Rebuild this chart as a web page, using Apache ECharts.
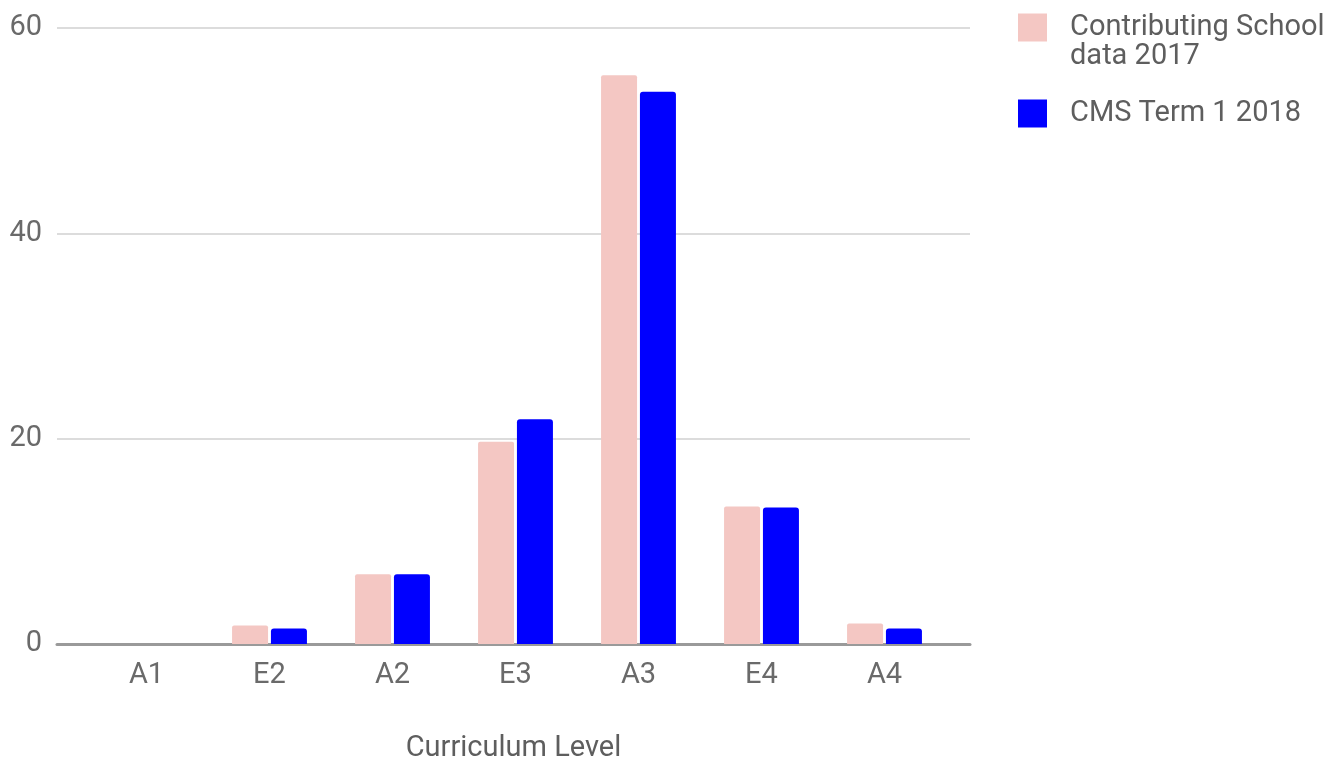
<!DOCTYPE html>
<html>
<head>
<meta charset="utf-8">
<script src="https://cdn.jsdelivr.net/npm/echarts@6/dist/echarts.min.js"></script>
<style>
  html, body { margin: 0; padding: 0; background: #fff; }
  #chart { width: 1344px; height: 763px; }
</style>
</head>
<body>
<div id="chart"></div>
<script>
// Curriculum levels along the horizontal axis
const categories = ['A1', 'E2', 'A2', 'E3', 'A3', 'E4', 'A4'];
// Percentage of students at each level
const contributing2017 = [0, 1.8, 6.8, 19.7, 55.4, 13.4, 2.0];
const cmsTerm1_2018 = [0, 1.5, 6.8, 21.9, 53.8, 13.3, 1.5];
// Vertical axis ticks
const yTicks = [0, 20, 40, 60];

const seriesNames = ['Contributing School\ndata 2017', 'CMS Term 1 2018'];
const colors = ['#f4c7c3', '#0000ff'];

const yMin = yTicks[0];
const yMax = yTicks[yTicks.length - 1];
const yStep = yTicks[1] - yTicks[0];

const font = 'Roboto, "Open Sans", sans-serif';
const textColor = '#5e5e5e';
const tickColor = '#6a6a6a';

const chart = echarts.init(document.getElementById('chart'));
chart.setOption({
  animation: false,
  backgroundColor: '#ffffff',
  textStyle: { fontFamily: font },
  grid: [
    // wide frame: gridlines, baseline, value labels
    { left: 57, right: 374, top: 28, bottom: 119, containLabel: false, outerBoundsMode: 'none' },
    // inner frame holding the bars
    { left: 85, right: 398, top: 28, bottom: 119, containLabel: false, outerBoundsMode: 'none' }
  ],
  legend: [
    {
      data: [seriesNames[0]],
      orient: 'vertical',
      left: 1013,
      top: -21,
      itemWidth: 29,
      itemHeight: 28,
      icon: 'rect',
      // blank leading line keeps the first text line level with the swatch
      formatter: function (name) { return '\u00a0\n' + name; },
      textStyle: { fontFamily: font, fontSize: 29, color: textColor, lineHeight: 29, padding: [0, 0, 0, 18] }
    },
    {
      data: [seriesNames[1]],
      orient: 'vertical',
      left: 1013,
      top: 94,
      itemWidth: 29,
      itemHeight: 28,
      icon: 'rect',
      textStyle: { fontFamily: font, fontSize: 29, color: textColor, padding: [0, 0, 0, 18] }
    }
  ],
  xAxis: [
    {
      gridIndex: 0,
      type: 'category',
      data: categories,
      axisLine: { show: true, lineStyle: { color: '#9a9a9a', width: 3 } },
      axisTick: { show: false },
      axisLabel: { show: false },
      splitLine: { show: false },
      name: 'Curriculum Level',
      nameLocation: 'middle',
      nameGap: 90,
      nameTextStyle: { fontFamily: font, fontSize: 29, color: textColor }
    },
    {
      gridIndex: 1,
      type: 'category',
      data: categories,
      axisLine: { show: false },
      axisTick: { show: false },
      axisLabel: { fontFamily: font, fontSize: 29, color: tickColor, margin: 17 },
      splitLine: { show: false }
    }
  ],
  yAxis: [
    {
      gridIndex: 0,
      type: 'value',
      min: yMin,
      max: yMax,
      interval: yStep,
      axisLine: { show: false },
      axisTick: { show: false },
      axisLabel: { fontFamily: font, fontSize: 29, color: tickColor, margin: 15 },
      splitLine: { lineStyle: { color: '#dcdcdc', width: 2 } }
    },
    {
      gridIndex: 1,
      type: 'value',
      min: yMin,
      max: yMax,
      interval: yStep,
      show: false,
      splitLine: { show: false }
    }
  ],
  series: [
    {
      name: seriesNames[0],
      type: 'bar',
      xAxisIndex: 1,
      yAxisIndex: 1,
      data: contributing2017,
      barWidth: 36,
      barGap: '8%',
      itemStyle: { color: colors[0], borderRadius: [2, 2, 0, 0] }
    },
    {
      name: seriesNames[1],
      type: 'bar',
      xAxisIndex: 1,
      yAxisIndex: 1,
      data: cmsTerm1_2018,
      barWidth: 36,
      barGap: '8%',
      itemStyle: { color: colors[1], borderRadius: [3, 3, 0, 0] }
    }
  ]
});
</script>
</body>
</html>
